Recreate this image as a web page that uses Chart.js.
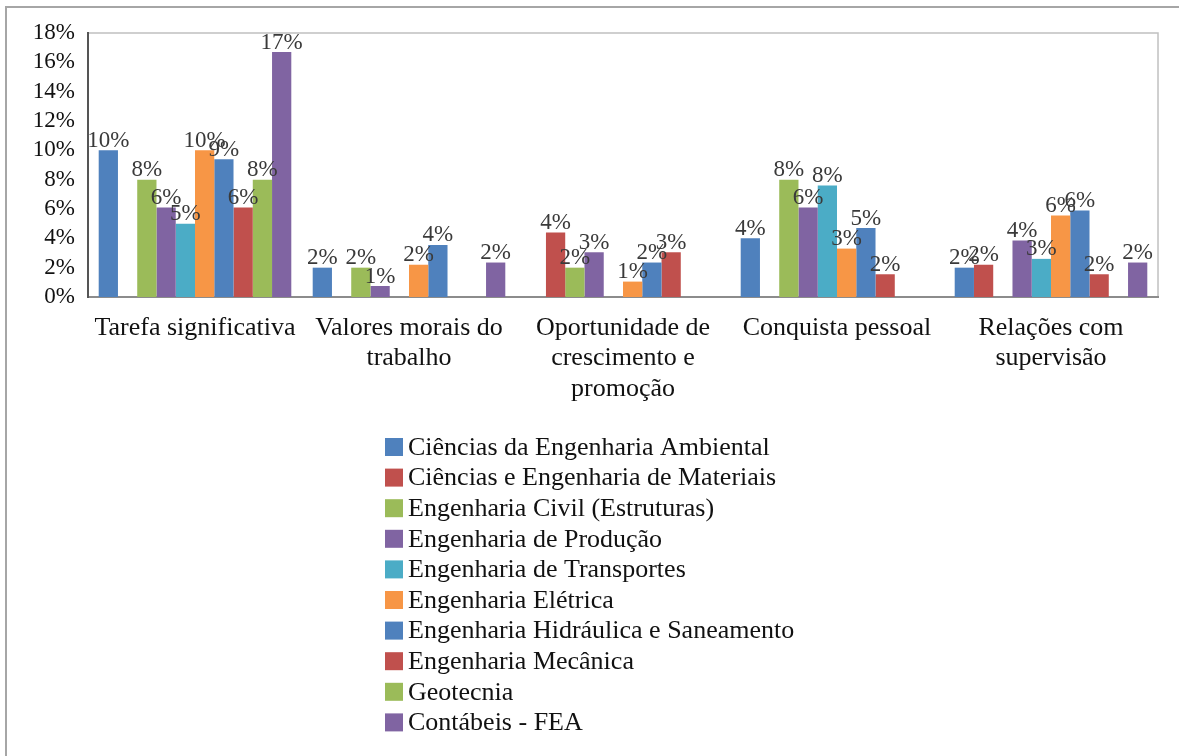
<!DOCTYPE html>
<html>
<head>
<meta charset="utf-8">
<script src="https://cdn.jsdelivr.net/npm/chart.js@4.4.1/dist/chart.umd.min.js"></script>
<style>
  body { margin: 0; background: #fff; }
  canvas { display: block; }
</style>
</head>
<body>
<canvas id="grafico" width="1179" height="756"></canvas>
<script>
// Categorias (eixo x)
const categorias = [
    ['Tarefa significativa'],
    ['Valores morais do', 'trabalho'],
    ['Oportunidade de', 'crescimento e', 'promoção'],
    ['Conquista pessoal'],
    ['Relações com', 'supervisão']
];

// Cursos (séries)
const cursos = [
    'Ciências da Engenharia Ambiental',
    'Ciências e Engenharia de Materiais',
    'Engenharia Civil (Estruturas)',
    'Engenharia de Produção',
    'Engenharia de Transportes',
    'Engenharia Elétrica',
    'Engenharia Hidráulica e Saneamento',
    'Engenharia Mecânica',
    'Geotecnia',
    'Contábeis - FEA'
];

// Valores (%)
const ambiental   = [10.0, 2.0, null, 4.0, 2.0];
const materiais   = [null, null, 4.4, null, 2.2];
const civil       = [8.0, 2.0, 2.0, 8.0, null];
const producao    = [6.1, 0.75, 3.05, 6.1, 3.85];
const transportes = [5.0, null, null, 7.6, 2.6];
const eletrica    = [10.0, 2.2, 1.05, 3.3, 5.55];
const hidraulica  = [9.4, 3.55, 2.35, 4.7, 5.9];
const mecanica    = [6.1, null, 3.05, 1.55, 1.55];
const geotecnia   = [8.0, null, null, null, null];
const contabeis   = [16.7, 2.35, null, null, 2.35];

const valores = [ambiental, materiais, civil, producao, transportes,
                 eletrica, hidraulica, mecanica, geotecnia, contabeis];

const cores = ['#4F81BD', '#C0504D', '#9BBB59', '#8064A2', '#4BACC6',
               '#F79646', '#4F81BD', '#C0504D', '#9BBB59', '#8064A2'];

// Ticks do eixo y
const ticksY = [0, 2, 4, 6, 8, 10, 12, 14, 16, 18];

const fonte = '"Liberation Serif", "Times New Roman", serif';

// Moldura externa + borda da área do gráfico
const moldura = {
    id: 'moldura',
    beforeDraw(chart) {
        const ctx = chart.ctx;
        const a = chart.chartArea;
        ctx.save();
        ctx.fillStyle = '#fff';
        ctx.fillRect(0, 0, chart.width, chart.height);
        ctx.strokeStyle = '#a6a6a6';
        ctx.lineWidth = 2;
        ctx.beginPath();
        ctx.moveTo(6, chart.height);
        ctx.lineTo(6, 7);
        ctx.lineTo(chart.width, 7);
        ctx.stroke();
        ctx.strokeStyle = '#c0c0c0';
        ctx.lineWidth = 1.5;
        ctx.strokeRect(a.left, a.top, a.right - a.left, a.bottom - a.top);
        ctx.restore();
    }
};

// Rótulos de dados acima das barras
const rotulos = {
    id: 'rotulos',
    afterDatasetsDraw(chart) {
        const ctx = chart.ctx;
        ctx.save();
        ctx.font = '23px ' + fonte;
        ctx.fillStyle = '#3a3a3a';
        ctx.textAlign = 'center';
        ctx.textBaseline = 'bottom';
        chart.data.datasets.forEach((ds, i) => {
            chart.getDatasetMeta(i).data.forEach((bar, j) => {
                const v = ds.data[j];
                if (v === null || v === undefined) return;
                ctx.fillText(Math.round(v) + '%', bar.x, bar.y + 2);
            });
        });
        ctx.restore();
    }
};

// Legenda vertical
const legenda = {
    id: 'legenda',
    afterDraw(chart) {
        const ctx = chart.ctx;
        ctx.save();
        ctx.font = '26px ' + fonte;
        ctx.textBaseline = 'middle';
        chart.data.datasets.forEach((ds, i) => {
            const y = 447 + i * 30.6;
            ctx.fillStyle = ds.backgroundColor;
            ctx.fillRect(385, y - 9, 18, 18);
            ctx.fillStyle = '#111';
            ctx.fillText(ds.label, 408, y + 1);
        });
        ctx.restore();
    }
};

new Chart(document.getElementById('grafico'), {
    type: 'bar',
    data: {
        labels: categorias,
        datasets: cursos.map((nome, i) => ({
            label: nome,
            data: valores[i],
            backgroundColor: cores[i],
            borderWidth: 0,
            barPercentage: 1,
            categoryPercentage: 0.9
        }))
    },
    options: {
        responsive: false,
        animation: false,
        layout: { padding: { left: 8, top: 33, right: 21, bottom: 0 } },
        plugins: {
            legend: { display: false },
            tooltip: { enabled: false }
        },
        scales: {
            x: {
                grid: { display: false },
                border: { color: '#8c8c8c', width: 2 },
                ticks: {
                    color: '#111',
                    font: { family: fonte, size: 26, lineHeight: 1.17 },
                    padding: 8,
                    maxRotation: 0,
                    autoSkip: false
                },
                afterFit(scale) { scale.height = 459; }
            },
            y: {
                min: 0,
                max: 18,
                grid: { display: false },
                border: { color: '#555', width: 2 },
                afterBuildTicks(scale) { scale.ticks = ticksY.map(v => ({ value: v })); },
                ticks: {
                    color: '#111',
                    font: { family: fonte, size: 23 },
                    padding: 5,
                    autoSkip: false,
                    callback: v => v + '%'
                },
                afterFit(scale) { scale.width = 80; }
            }
        }
    },
    plugins: [moldura, rotulos, legenda]
});
</script>
</body>
</html>
